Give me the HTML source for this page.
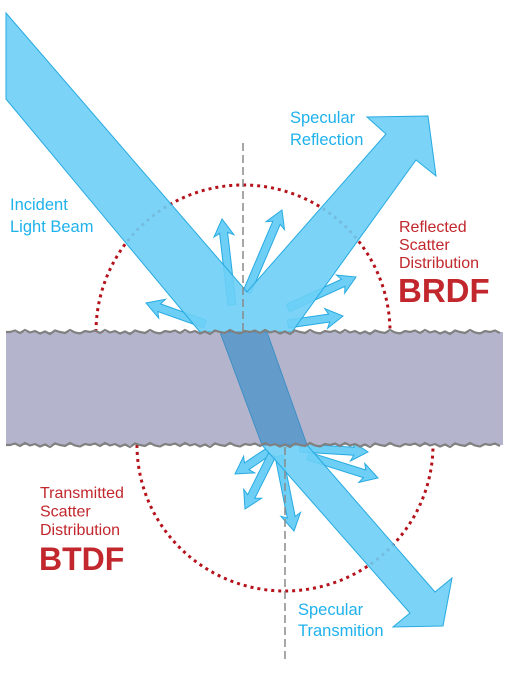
<!DOCTYPE html>
<html><head><meta charset="utf-8"><style>
html,body{margin:0;padding:0;background:#fff;}
svg{display:block;}
text{font-family:"Liberation Sans",sans-serif;}
</style></head><body>
<svg id="d" width="512" height="675" viewBox="0 0 512 675" xmlns="http://www.w3.org/2000/svg">
<g id="circles">
<path d="M96,332 A147,147 0 0 1 390,332" fill="none" stroke="#b5121b" stroke-width="3" stroke-dasharray="3 4"/>
<path d="M137,445 A148,146 0 0 0 433,445" fill="none" stroke="#b5121b" stroke-width="3" stroke-dasharray="3 4"/>
</g>
<g id="arrows" fill="#6dcff6" stroke="#27aae1" stroke-width="1"></g>
<g id="beams" fill="#6dcff6" stroke="#27aae1" stroke-width="1" fill-opacity="0.9">
<polygon points="6,99 200,332 292,332 416,160 436,176 428,116 367,117 386,134 247,292 6,13"/>
<polygon points="262,445 307,445 435,592 452,578 443,626 393,627 410,613"/>
</g>
<g>
<rect x="6" y="332" width="497" height="113" fill="#b4b4cc"/>
<polygon points="220,332 267,332 307,445 262,445" fill="#639ccb" stroke="#3f8fc5" stroke-width="1"/>
<path id="edgeTop" fill="none" stroke="#808080" stroke-width="2.2"/>
<path id="edgeBot" fill="none" stroke="#808080" stroke-width="2.2"/>
</g>
<line x1="243" y1="143" x2="243" y2="332" stroke="#8a8a8a" stroke-width="1.5" stroke-dasharray="8 4"/>
<line x1="285" y1="447" x2="285" y2="662" stroke="#8a8a8a" stroke-width="1.5" stroke-dasharray="8 4"/>
<g fill="#1fb1ec" font-size="16.5">
<text x="290" y="123"><tspan x="290">Specular</tspan><tspan x="290" dy="22">Reflection</tspan></text>
<text x="10" y="210"><tspan x="10">Incident</tspan><tspan x="10" dy="22">Light Beam</tspan></text>
<text x="298" y="615"><tspan x="298">Specular</tspan><tspan x="298" dy="21">Transmition</tspan></text>
</g>
<g fill="#c1272d">
<text x="399" y="232" font-size="16"><tspan x="399">Reflected</tspan><tspan x="399" dy="18">Scatter</tspan><tspan x="399" dy="18">Distribution</tspan></text>
<text x="398" y="302" font-size="33" font-weight="bold">BRDF</text>
<text x="40" y="498" font-size="16"><tspan x="40">Transmitted</tspan><tspan x="40" dy="18.5">Scatter</tspan><tspan x="40" dy="18.5">Distribution</tspan></text>
<text x="39" y="570" font-size="32" font-weight="bold">BTDF</text>
</g>
</svg>
<script>
const upperStarts=[[232,305],[247,292],[205,324],[288,308],[288,324]];
const upperTips=[[222,219],[282,210],[146,303],[356,277],[343,316]];
const lowerStarts=[[268,452],[272,455],[279,456],[300,448],[308,456]];
const lowerTips=[[235,474],[245,509],[294,531],[368,452],[378,478]];
const NS='http://www.w3.org/2000/svg';
const g=document.getElementById('arrows');
function arrow(a,b,name){
  const dx=b[0]-a[0],dy=b[1]-a[1],L=Math.hypot(dx,dy),ux=dx/L,uy=dy/L,px=-uy,py=ux;
  const hw=4,bw=10,hl=14;
  const bx=b[0]-ux*hl,by=b[1]-uy*hl;
  const pts=[[a[0]+px*hw,a[1]+py*hw],[bx+px*hw,by+py*hw],[bx+px*bw-ux*3,by+py*bw-uy*3],b,[bx-px*bw-ux*3,by-py*bw-uy*3],[bx-px*hw,by-py*hw],[a[0]-px*hw,a[1]-py*hw]];
  const p=document.createElementNS(NS,'polygon');
  p.setAttribute('points',pts.map(q=>q[0].toFixed(1)+','+q[1].toFixed(1)).join(' '));
  
  
  g.appendChild(p);
}
upperStarts.forEach((s,i)=>arrow(s,upperTips[i],'reflected-scatter-arrow'));
lowerStarts.forEach((s,i)=>arrow(s,lowerTips[i],'transmitted-scatter-arrow'));
const jitter=[0,-1.5,1,-2,0.5,-1,1.5,-0.5,2,-1.5,0,1,-2,0.5,1.5,-1];
function edge(y){let d='M6,'+y;let k=0;for(let x=10;x<=503;x+=5){d+=' L'+x+','+(y+jitter[k++%jitter.length]);}return d;}
document.getElementById('edgeTop').setAttribute('d',edge(332));
document.getElementById('edgeBot').setAttribute('d',edge(445));
</script>
</body></html>
